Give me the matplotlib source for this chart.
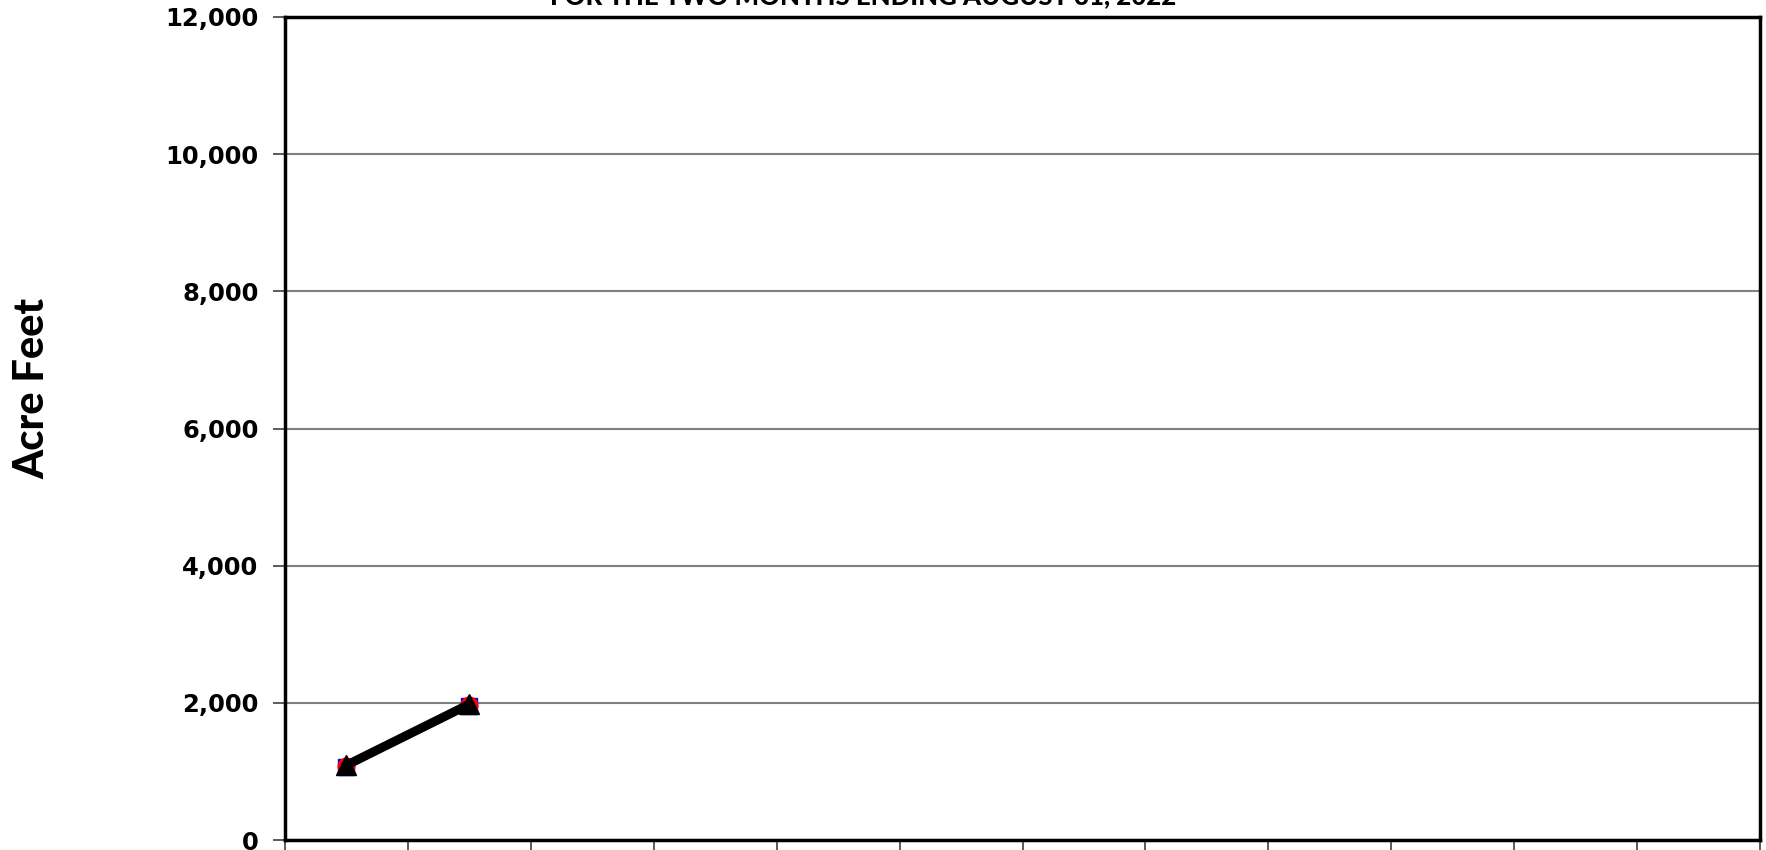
import matplotlib.pyplot as plt
from matplotlib.ticker import FuncFormatter, MultipleLocator

# monthly cumulative acre feet (only the first two months reported so far)
months = list(range(12))
series_blue = [1070, 1955]
series_red = [1075, 1965]
series_black = [1090, 1980]

y_max = 12000
y_step = 2000

fig = plt.figure(figsize=(17.66, 8.5), dpi=100)
ax = fig.add_axes([285 / 1766, 10 / 850, 1475 / 1766, 823 / 850])

x = [m + 0.5 for m in months]
ax.plot(x[:len(series_blue)], series_blue, color="blue", lw=2.5, marker="s",
        ms=12, mec="blue", mfc="blue", zorder=3)
ax.plot(x[:len(series_red)], series_red, color="red", lw=2.5, marker="o",
        ms=12, mec="red", mfc="red", zorder=4)
ax.plot(x[:len(series_black)], series_black, color="black", lw=6.5, marker="^",
        ms=14, mec="black", mfc="black", zorder=5)

ax.set_xlim(0, 12)
ax.set_ylim(0, y_max)
ax.set_xticks(range(13))
ax.set_xticklabels([])
ax.yaxis.set_major_locator(MultipleLocator(y_step))
ax.yaxis.set_major_formatter(FuncFormatter(lambda v, p: f"{int(v):,}"))
ax.tick_params(axis="both", direction="out", length=9, width=1.2, color="#404040")
ax.tick_params(axis="x", length=10)
ax.tick_params(axis="y", pad=10)
for lbl in ax.get_yticklabels():
    lbl.set_fontfamily("DejaVu Sans")
    lbl.set_fontweight("bold")
    lbl.set_fontsize(17.5)

ax.grid(axis="y", color="#808080", lw=1.5)
ax.set_axisbelow(True)
for sp in ax.spines.values():
    sp.set_linewidth(2.5)
    sp.set_color("black")

fig.text(32 / 1766, 1 - 388 / 850, "Acre Feet", rotation=90, ha="center",
         va="center", fontsize=30, fontweight=900, family="Lato")
fig.text(863 / 1766, 1 - 4 / 850, "FOR THE TWO MONTHS ENDING AUGUST 31, 2022",
         ha="center", va="baseline", fontsize=18.5, fontweight=900,
         family="Lato")

fig.savefig("out.png", dpi=100)
